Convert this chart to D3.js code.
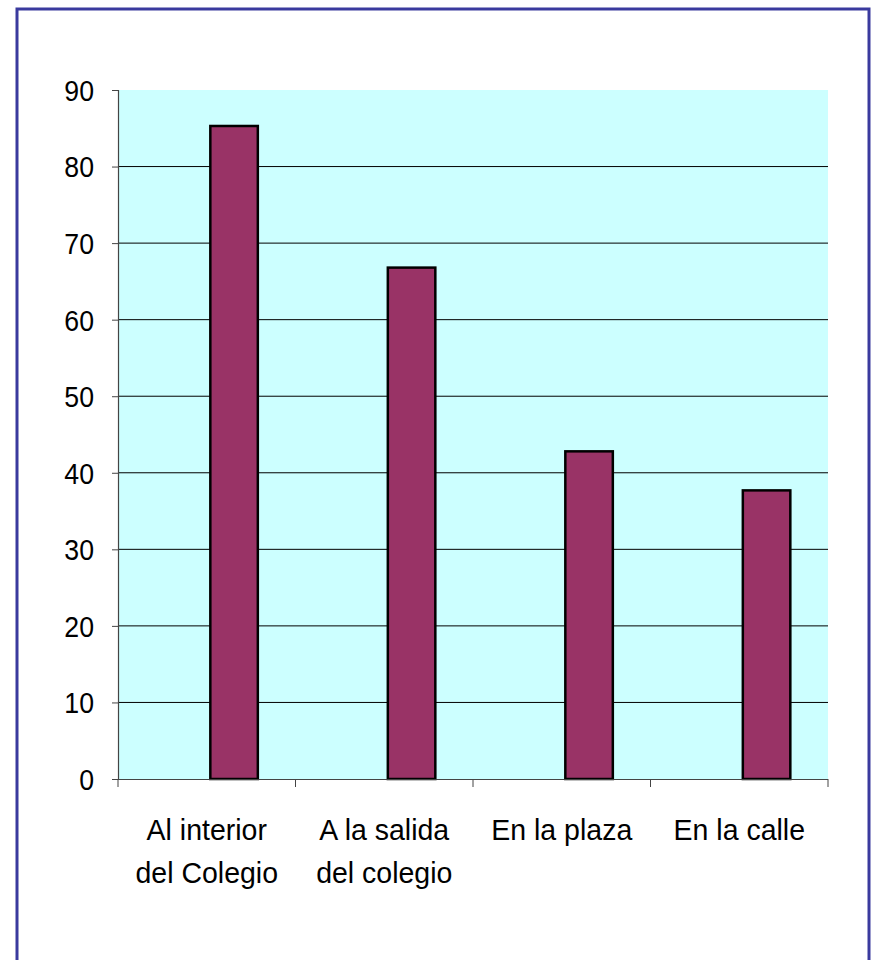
<!DOCTYPE html>
<meta charset="utf-8">
<script src="https://d3js.org/d3.v7.min.js"></script>
<style>
  body { margin: 0; background: #fff; }
  text { font-family: "Liberation Sans", Arial, sans-serif; fill: #000; }
</style>
<body>
<div id="chart"></div>
<script>
  // data
  var categories = ["Al interior del Colegio", "A la salida del colegio", "En la plaza", "En la calle"];
  var labelLines = [["Al interior", "del Colegio"], ["A la salida", "del colegio"], ["En la plaza"], ["En la calle"]];
  var values = [85.3, 66.8, 42.8, 37.7];
  var yTicks = [0, 10, 20, 30, 40, 50, 60, 70, 80, 90];

  var width = 873, height = 960;
  var plot = {left: 118, right: 828, top: 90, bottom: 779};

  var svg = d3.select("#chart").append("svg")
    .attr("width", width)
    .attr("height", height);

  // outer frame
  svg.append("rect")
    .attr("x", 17).attr("y", 9)
    .attr("width", 852).attr("height", 970)
    .attr("fill", "none")
    .attr("stroke", "#3a3a9e")
    .attr("stroke-width", 3);

  var x = d3.scaleBand()
    .domain(categories)
    .range([plot.left, plot.right])
    .padding(0);

  // two slots per category, the first one empty (as in the original spreadsheet)
  var xInner = d3.scaleBand()
    .domain(["vacio", "valor"])
    .range([0, x.bandwidth()])
    .paddingInner(0)
    .paddingOuter(0.775)
    .align(0.53);

  var y = d3.scaleLinear()
    .domain([0, 90])
    .range([plot.bottom, plot.top]);

  // plot background
  svg.append("rect")
    .attr("x", plot.left).attr("y", plot.top)
    .attr("width", plot.right - plot.left)
    .attr("height", plot.bottom - plot.top)
    .attr("fill", "#ccffff");

  // gridlines
  svg.append("g")
    .selectAll("line")
    .data(yTicks.filter(function(d) { return d > 0 && d < 90; }))
    .enter().append("line")
    .attr("x1", plot.left).attr("x2", plot.right)
    .attr("y1", function(d) { return y(d); })
    .attr("y2", function(d) { return y(d); })
    .attr("stroke", "#000")
    .attr("stroke-width", 1);

  // bars
  svg.append("g")
    .selectAll("rect")
    .data(values)
    .enter().append("rect")
    .attr("x", function(d, i) { return x(categories[i]) + xInner("valor") + 1.25; })
    .attr("width", xInner.bandwidth() - 2.5)
    .attr("y", function(d) { return y(d); })
    .attr("height", function(d) { return y(0) - y(d); })
    .attr("fill", "#993366")
    .attr("stroke", "#000")
    .attr("stroke-width", 2.5);

  // y axis
  var yAxis = svg.append("g")
    .attr("transform", "translate(" + plot.left + ",0)")
    .call(d3.axisLeft(y).tickValues(yTicks).tickSize(6).tickPadding(22));
  yAxis.select(".domain").attr("stroke", "#444").attr("stroke-width", 1.2);
  yAxis.selectAll(".tick line").attr("stroke", "#444");
  yAxis.selectAll(".tick text")
    .attr("font-family", "Liberation Sans, Arial, sans-serif")
    .attr("font-size", 29)
    .attr("fill", "#000")
    .attr("dy", "0.36em")
    .attr("transform", "scale(0.92,1)")
    .attr("x", -24 / 0.92);

  // x axis: ticks at category boundaries
  var bounds = categories.map(function(c) { return x(c); }).concat([plot.right]);
  svg.append("line")
    .attr("x1", plot.left).attr("x2", plot.right)
    .attr("y1", plot.bottom + 0.5).attr("y2", plot.bottom + 0.5)
    .attr("stroke", "#444").attr("stroke-width", 1.2);
  svg.append("g")
    .selectAll("line")
    .data(bounds)
    .enter().append("line")
    .attr("x1", function(d) { return d; }).attr("x2", function(d) { return d; })
    .attr("y1", plot.bottom).attr("y2", plot.bottom + 8)
    .attr("stroke", "#444");

  // category labels
  var lab = svg.append("g")
    .selectAll("text")
    .data(categories)
    .enter().append("text")
    .attr("text-anchor", "middle")
    .attr("font-size", 30)
    .attr("transform", function(d) { return "translate(" + (x(d) + x.bandwidth() / 2) + ",840) scale(0.95,1)"; });
  lab.selectAll("tspan")
    .data(function(d, i) { return labelLines[i]; })
    .enter().append("tspan")
    .attr("x", 0)
    .attr("dy", function(d, j) { return j === 0 ? 0 : 43; })
    .text(function(d) { return d; });
</script>
</body>
